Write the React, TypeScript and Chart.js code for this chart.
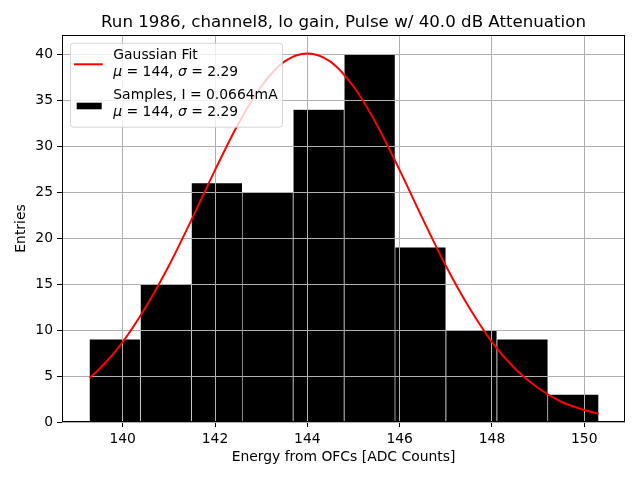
import React, { useEffect, useRef } from 'react';
import { Chart, registerables } from 'chart.js';

Chart.register(...registerables);

// histogram bins (ADC counts) and counts per bin
const binEdges = [139.28, 140.38, 141.49, 142.59, 143.69, 144.8, 145.9, 147.0, 148.11, 149.21, 150.31];
const entries = [9, 15, 26, 25, 34, 40, 19, 10, 9, 3];

// gaussian fit curve
const fitX = [139.28, 139.5, 140, 140.5, 141, 141.5, 142, 142.5, 143, 143.5, 144, 144.5, 145, 145.5, 146, 146.5, 147, 147.5, 148, 148.5, 149, 149.5, 150, 150.31];
const fitY = [4.8, 5.8, 8.7, 12.5, 17.0, 22.1, 27.4, 32.4, 36.5, 39.2, 40.1, 39.2, 36.5, 32.4, 27.4, 22.1, 17.0, 12.5, 8.7, 5.8, 3.7, 2.2, 1.3, 0.9];

const xTickValues = [140, 142, 144, 146, 148, 150];
const yTickValues = [0, 5, 10, 15, 20, 25, 30, 35, 40];

const titleText = 'Run 1986, channel8, lo gain, Pulse w/ 40.0 dB Attenuation';
const fitLabel = 'Gaussian Fit';
const sampleLabel = 'Samples, I = 0.0664mA';
const muValue = '144';
const sigmaValue = '2.29';

const FAMILY = '"DejaVu Sans", sans-serif';
const SIZE = 13.9;

function drawStats(ctx: CanvasRenderingContext2D, x: number, y: number) {
  const parts: [string, boolean][] = [
    ['\u03bc', true],
    [` = ${muValue}, `, false],
    ['\u03c3', true],
    [` = ${sigmaValue}`, false],
  ];
  let cx = x;
  parts.forEach(([txt, italic]) => {
    ctx.font = `${italic ? 'italic ' : ''}${SIZE}px ${FAMILY}`;
    ctx.fillText(txt, cx, y);
    cx += ctx.measureText(txt).width;
  });
}

const mplPlugin = {
  id: 'mplLook',
  // grid sits above the bars but below the fit line
  afterDatasetDraw(chart: any, args: any) {
    if (args.meta.type !== 'bar') return;
    const { ctx, chartArea: a, scales } = chart;
    ctx.save();
    ctx.strokeStyle = '#b0b0b0';
    ctx.lineWidth = 1;
    ctx.beginPath();
    scales.x.ticks.forEach((t: any) => {
      const px = Math.round(scales.x.getPixelForValue(t.value) - 0.5) + 0.5;
      ctx.moveTo(px, a.top);
      ctx.lineTo(px, a.bottom);
    });
    scales.y.ticks.forEach((t: any) => {
      const py = Math.round(scales.y.getPixelForValue(t.value) - 0.5) + 0.5;
      ctx.moveTo(a.left, py);
      ctx.lineTo(a.right, py);
    });
    ctx.stroke();
    ctx.restore();
  },
  afterDraw(chart: any) {
    const { ctx, chartArea: a } = chart;
    ctx.save();

    // frame
    ctx.strokeStyle = '#000';
    ctx.lineWidth = 1;
    ctx.strokeRect(a.left + 0.5, a.top + 0.5, a.right - a.left - 1, a.bottom - a.top - 1);

    // title
    ctx.fillStyle = '#000';
    ctx.font = `16.67px ${FAMILY}`;
    ctx.textAlign = 'center';
    ctx.textBaseline = 'alphabetic';
    ctx.fillText(titleText, (a.left + a.right) / 2, 27.3);

    // legend
    const lx = a.left + 8;
    const ly = a.top + 7.7;
    ctx.beginPath();
    ctx.roundRect(lx + 0.5, ly + 0.5, 212, 84, 3);
    ctx.fillStyle = 'rgba(255,255,255,0.8)';
    ctx.fill();
    ctx.strokeStyle = 'rgba(204,204,204,0.8)';
    ctx.stroke();

    ctx.strokeStyle = '#ff0000';
    ctx.lineWidth = 2;
    ctx.beginPath();
    ctx.moveTo(a.left + 12, a.top + 29.3);
    ctx.lineTo(a.left + 40.7, a.top + 29.3);
    ctx.stroke();

    ctx.fillStyle = '#000';
    ctx.fillRect(a.left + 14.7, a.top + 67.7, 25, 6.6);

    ctx.textAlign = 'left';
    const tx = a.left + 51.3;
    ctx.font = `${SIZE}px ${FAMILY}`;
    ctx.fillText(fitLabel, tx, a.top + 24.3);
    drawStats(ctx, tx, a.top + 41);
    ctx.font = `${SIZE}px ${FAMILY}`;
    ctx.fillText(sampleLabel, tx, a.top + 64);
    drawStats(ctx, tx, a.top + 81);

    ctx.restore();
  },
};

export default function App() {
  const chartRef = useRef<HTMLCanvasElement>(null);
  const chartInstance = useRef<Chart | null>(null);

  useEffect(() => {
    document.body.style.margin = '0';
    if (!chartRef.current) return;
    if (chartInstance.current) chartInstance.current.destroy();

    const ctx = chartRef.current.getContext('2d');
    if (!ctx) return;

    const font = { family: FAMILY, size: SIZE };

    chartInstance.current = new Chart(ctx, {
      type: 'bar',
      data: {
        datasets: [
          {
            type: 'line',
            label: fitLabel,
            data: fitX.map((x, i) => ({ x, y: fitY[i] })),
            borderColor: '#ff0000',
            borderWidth: 2,
            pointRadius: 0,
            cubicInterpolationMode: 'monotone',
            order: 0,
          },
          {
            type: 'bar',
            label: sampleLabel,
            data: entries.map((y, i) => ({ x: (binEdges[i] + binEdges[i + 1]) / 2, y })),
            backgroundColor: '#000000',
            borderColor: '#ffffff',
            borderWidth: 0.6,
            barPercentage: 1,
            categoryPercentage: 1,
            order: 1,
          },
        ] as any,
      },
      options: {
        animation: false,
        responsive: true,
        maintainAspectRatio: false,
        layout: { padding: { top: 35, right: 15, left: 0, bottom: 0 } },
        plugins: {
          legend: { display: false },
          tooltip: { enabled: false },
          title: { display: false },
        },
        scales: {
          x: {
            type: 'linear',
            min: 138.685,
            max: 150.882,
            offset: false,
            border: { display: false },
            grid: { color: '#b0b0b0', offset: false, tickLength: 5, tickColor: '#000' },
            ticks: { color: '#000', font, padding: 4, maxRotation: 0 },
            afterBuildTicks: (s: any) => {
              s.ticks = xTickValues.map(v => ({ value: v }));
            },
            afterFit: (s: any) => {
              s.height = 58;
            },
            title: {
              display: true,
              text: 'Energy from OFCs [ADC Counts]',
              color: '#000',
              font,
              padding: { top: 0, bottom: 14.7 },
            },
          },
          y: {
            type: 'linear',
            min: 0,
            max: 42.1,
            border: { display: false },
            grid: { color: '#b0b0b0', tickLength: 5, tickColor: '#000' },
            ticks: { color: '#000', font, padding: 4 },
            afterBuildTicks: (s: any) => {
              s.ticks = yTickValues.map(v => ({ value: v }));
            },
            afterFit: (s: any) => {
              s.width = 62;
            },
            title: {
              display: true,
              text: 'Entries',
              color: '#000',
              font,
              padding: { top: 13.4, bottom: 0 },
            },
          },
        },
      },
      plugins: [mplPlugin],
    });

    return () => {
      if (chartInstance.current) {
        chartInstance.current.destroy();
        chartInstance.current = null;
      }
    };
  }, []);

  return (
    <div style={{ width: 640, height: 480, position: 'relative', background: '#fff' }}>
      <canvas ref={chartRef}></canvas>
    </div>
  );
}
